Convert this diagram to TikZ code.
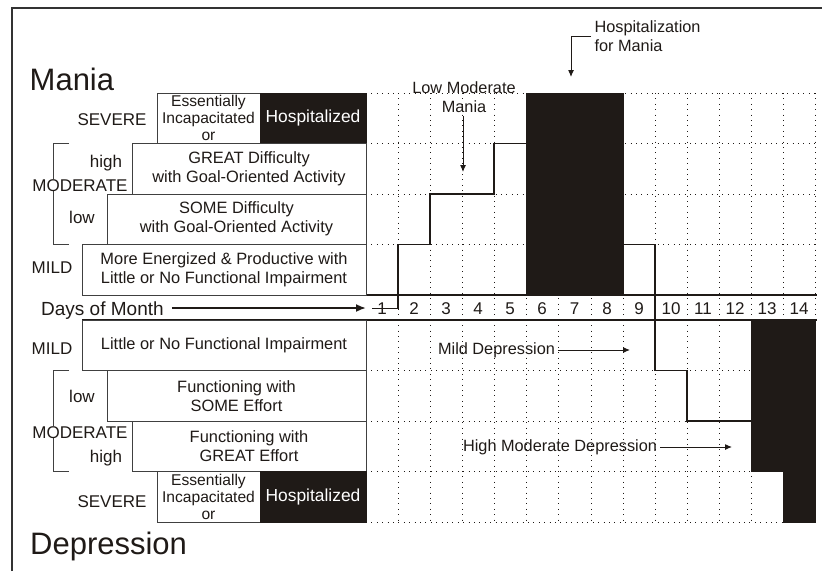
\documentclass[tikz,border=0pt]{standalone}
\usepackage{fontspec}
\setmainfont{Liberation Sans}
\usetikzlibrary{arrows.meta}
\definecolor{ink}{HTML}{1F1A17}
\tikzset{
  lvl/.style={text=ink,inner sep=0pt,anchor=base,font=\fontsize{17}{19}\selectfont},
  cat/.style={draw=black!75,line width=1pt,fill=white,text=ink,align=center,
    inner sep=0pt,outer sep=0pt,anchor=north west,minimum height=50.5pt,
    font=\fontsize{16.4}{19}\selectfont},
  sevcat/.style={cat,minimum width=103pt,font=\fontsize{15.6}{17}\selectfont},
  hospcat/.style={cat,fill=ink,draw=ink,text=white,minimum width=106pt,
    font=\fontsize{17.4}{19}\selectfont},
  gridline/.style={draw=ink,line width=1pt,dash pattern=on 1pt off 4.4pt},
  note/.style={text=ink,align=center,font=\fontsize{16.3}{19}\selectfont},
  pointer/.style={draw=ink,line width=1pt,-{Latex[length=7pt,width=6pt]}},
  mood/.style={draw=ink,line width=1.3pt}
}
\begin{document}
\begin{tikzpicture}[x=1pt,y=-1pt]
\useasboundingbox (0,0) rectangle (822,571);

\path[draw=black!80,line width=1.3pt] (12,571) -- (12,8) -- (822,8);

% grid mania
\path[gridline] (366,93) -- (815,93);
\path[gridline] (366,143.5) -- (815,143.5);
\path[gridline] (366,194) -- (815,194);
\path[gridline] (366,244.5) -- (815,244.5);
% grid depression
\path[gridline] (366,370.5) -- (815,370.5);
\path[gridline] (366,421) -- (815,421);
\path[gridline] (366,471.5) -- (815,471.5);
\path[gridline] (366,522) -- (815,522);
% days
\path[gridline] (398,93) -- (398,522);
\path[gridline] (430,93) -- (430,522);
\path[gridline] (462,93) -- (462,522);
\path[gridline] (494,93) -- (494,522);
\path[gridline] (526,93) -- (526,522);
\path[gridline] (558,93) -- (558,522);
\path[gridline] (591,93) -- (591,522);
\path[gridline] (623,93) -- (623,522);
\path[gridline] (655,93) -- (655,522);
\path[gridline] (687,93) -- (687,522);
\path[gridline] (719,93) -- (719,522);
\path[gridline] (751,93) -- (751,522);
\path[gridline] (783,93) -- (783,522);
\path[gridline] (815,93) -- (815,522);

\path[draw=ink,line width=1.2pt] (82,295) -- (817,295);
\path[draw=ink,line width=1.2pt] (82,320) -- (817,320);

%mania
\node[text=ink,inner sep=0pt,anchor=base west,font=\fontsize{31}{34}\selectfont] (mania) at (29.5,90) {Mania};
\node[sevcat] (msev) at (157,93) {Essentially\\Incapacitated\\or};
\node[hospcat] (mhosp) at (260,93) {Hospitalized};
\node[cat,minimum width=234pt] (mhigh) at (132,143.5) {GREAT Difficulty\\with Goal-Oriented Activity};
\node[cat,minimum width=259pt] (mlow) at (107,194) {SOME Difficulty\\with Goal-Oriented Activity};
\node[cat,minimum width=284pt] (mmild) at (82,244.5) {More Energized \& Productive with\\Little or No Functional Impairment};
\path[draw=black!75,line width=1pt] (69,143.5) -- (53,143.5) -- (53,244.5) -- (69,244.5);
\node[lvl] (msevl) at (112,125) {SEVERE};
\node[lvl] (mhighl) at (106,167) {high};
\node[lvl,fill=white] (mmodl) at (80,191) {MODERATE};
\node[lvl] (mlowl) at (82,223) {low};
\node[lvl] (mmildl) at (52,273) {MILD};

%depression
\node[cat,minimum width=284pt] (dmild) at (82,320) {Little or No Functional Impairment};
\node[cat,minimum width=259pt] (dlow) at (107,370.5) {Functioning with\\SOME Effort};
\node[cat,minimum width=234pt] (dhigh) at (132,421) {Functioning with\\GREAT Effort};
\node[sevcat] (dsev) at (157,471.5) {Essentially\\Incapacitated\\or};
\node[hospcat] (dhosp) at (260,471.5) {Hospitalized};
\path[draw=black!75,line width=1pt] (69,370.5) -- (53,370.5) -- (53,471.5) -- (69,471.5);
\node[lvl] (dmildl) at (52,354) {MILD};
\node[lvl] (dlowl) at (82,402) {low};
\node[lvl,fill=white] (dmodl) at (80,438) {MODERATE};
\node[lvl] (dhighl) at (106,462) {high};
\node[lvl] (dsevl) at (112,507) {SEVERE};
\node[text=ink,inner sep=0pt,anchor=base west,font=\fontsize{31}{34}\selectfont] (depr) at (30,554) {Depression};

%days of month
\node[text=ink,inner sep=0pt,anchor=base west,font=\fontsize{19}{21}\selectfont] (days) at (41,315) {Days of Month};
\coordinate (daytip) at (366,308);
\path[draw=ink,line width=1.8pt,-{Latex[length=10pt,width=8pt]}] ([xshift=8pt]days.east |- daytip) -- (daytip);
\node[lvl] (d1) at (382,314.5) {1};
\node[lvl] (d2) at (414,314.5) {2};
\node[lvl] (d3) at (446,314.5) {3};
\node[lvl] (d4) at (478,314.5) {4};
\node[lvl] (d5) at (510,314.5) {5};
\node[lvl] (d6) at (542,314.5) {6};
\node[lvl] (d7) at (574.5,314.5) {7};
\node[lvl] (d8) at (607,314.5) {8};
\node[lvl] (d9) at (639,314.5) {9};
\node[lvl] (d10) at (671,314.5) {10};
\node[lvl] (d11) at (703,314.5) {11};
\node[lvl] (d12) at (735,314.5) {12};
\node[lvl] (d13) at (767,314.5) {13};
\node[lvl] (d14) at (799,314.5) {14};

%mood
\draw[fill=ink,draw=ink] (526,93) rectangle (623,295);
\draw[fill=ink,draw=ink] (751,320) -- (815,320) -- (815,522) -- (783,522) -- (783,471.5) -- (751,471.5) -- cycle;
\path[mood] (372,308.5) -- (398,308.5) -- (398,244.5) -- (430,244.5) -- (430,194) -- (494,194) -- (494,143.5) -- (526,143.5);
\path[mood] (623,244.5) -- (655,244.5) -- (655,370.5) -- (687,370.5) -- (687,421) -- (751,421);

%notes
\node[note] (lmm) at (464,97) {Low Moderate\\Mania};
\coordinate (lmmtip) at (463,172);
\path[pointer] (lmm.south -| lmmtip) -- (lmmtip);
\node[note,align=left,anchor=west] (hfm) at (591,36) {Hospitalization\\for Mania};
\coordinate (hfmtip) at (571,77);
\path[pointer] (hfm.west) -| (hfmtip);
\node[note] (mdep) at (496.5,350) {Mild Depression};
\coordinate (mdeptip) at (630,350);
\path[pointer] (mdep.east) -- (mdeptip);
\node[note] (hmdep) at (560,447) {High Moderate Depression};
\coordinate (hmdeptip) at (732,447);
\path[pointer] (hmdep.east) -- (hmdeptip);

\end{tikzpicture}
\end{document}
